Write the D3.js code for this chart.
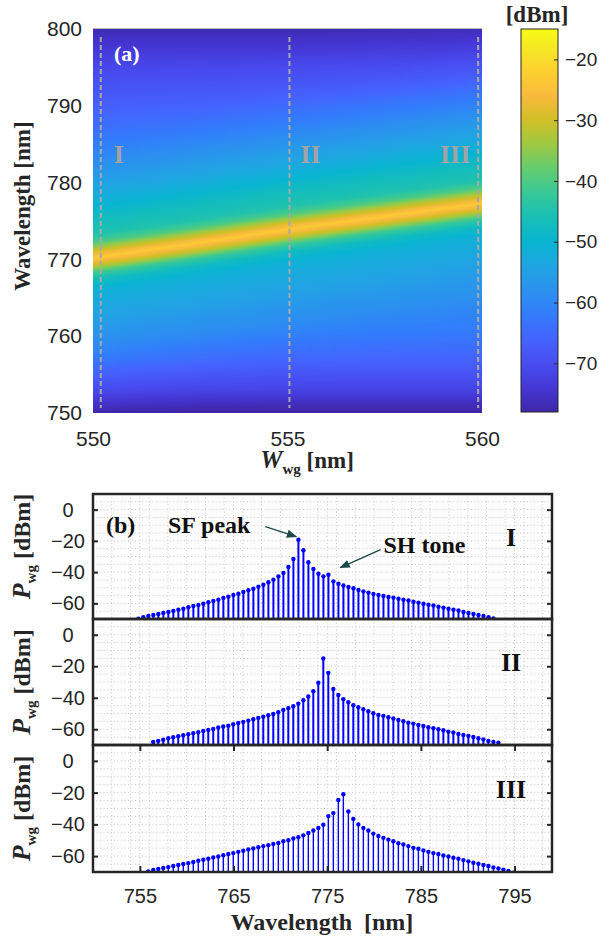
<!DOCTYPE html>
<html>
<head>
<meta charset="utf-8">
<script src="https://cdn.jsdelivr.net/npm/d3@7/dist/d3.min.js"></script>
<style>
body{margin:0;background:#fff;}
text{font-family:"Liberation Sans",Arial,sans-serif;fill:#262626;}
.serif{font-family:"Liberation Serif","Times New Roman",serif;font-weight:bold;}
</style>
</head>
<body>
<div id="plotdiv"></div>
<script>
// ---- (a) map data ----
// centre of the SF ridge (nm) at a few waveguide widths
var ridgeW = [550, 552.5, 555, 557.5, 560];
var ridgeLambda = [770.2, 772.0, 773.9, 775.6, 777.3];
// ridge power vs. distance from the ridge centre (nm -> dBm)
var ridgeOffset = [-22, -16, -12, -8, -4.4, -3, -2, -1, 0, 1, 2, 3, 5.3, 8, 11, 15, 20, 25];
var ridgeDbm = [-90, -72, -62, -56, -52, -48, -42, -31, -23, -31, -40, -45, -48, -53, -58, -66, -78, -90];
// flat floor vs. wavelength (nm -> dBm)
var floorLambda = [750, 753, 757, 761, 766, 772, 778, 784, 790, 795, 800];
var floorDbm = [-79, -72, -66, -62, -60, -60, -61, -63, -67, -71, -77];
var cutW = [550.2, 555.05, 559.9];
var cutNames = ["I", "II", "III"];
var mapTicksX = [550, 555, 560];
var mapTicksY = [750, 760, 770, 780, 790, 800];
var cbTicks = [-70, -60, -50, -40, -30, -20];

// ---- (b) comb spectra, one list per cut ----
var combStep = 0.534;
var combStart = [754.84, 756.43, 755.9];
var powerI = [-69.8, -68.9, -68.0, -67.4, -66.8, -66.1, -65.5, -64.8, -64.0, -63.4, -62.5, -61.7, -61.0, -60.2, -59.3, -58.5, -57.6,
  -56.5, -55.7, -54.6, -53.8, -52.7, -51.6, -50.6, -49.3, -48.0, -46.5, -44.8, -42.7, -40.5, -36.7, -31.6, -19.2,
  -26.0, -33.7, -38.0, -41.0, -42.7, -41.6, -45.9, -47.4, -48.6, -49.5, -50.3, -51.4, -52.3, -53.1, -54.0, -54.6, -55.3,
  -55.9, -56.3, -57.0, -57.6, -58.2, -58.9, -59.5, -60.2, -60.8, -61.4, -62.1, -62.7, -63.4, -64.0, -64.6, -65.5, -66.1,
  -66.8, -67.4, -68.0, -68.9, -69.6];
var powerII = [-68.1, -67.4, -66.6, -65.7, -65.1, -64.4, -63.8, -63.2, -62.5, -61.9, -61.1, -60.4, -59.8, -58.9, -58.3, -57.7,
  -56.8, -56.0, -55.3, -54.5, -53.6, -52.8, -52.0, -51.1, -50.3, -49.2, -47.7, -46.6, -45.4, -43.7, -41.6, -39.2, -35.8,
  -30.5, -15.1,
  -24.2, -34.4, -38.2, -40.9, -42.8, -44.7, -46.0, -47.3, -48.5, -49.8, -50.9, -51.5, -52.4, -53.2, -54.1, -54.9, -55.8,
  -56.4, -57.3, -57.9, -58.7, -59.4, -60.0, -60.6, -61.5, -62.1, -63.0, -63.6, -64.2, -64.9, -65.7, -66.4, -67.4, -68.1, -68.5];
var powerIII = [-69.6, -68.7, -68.1, -67.5, -66.9, -66.2, -65.6, -65.0, -64.4, -63.7, -62.9, -62.3, -61.7, -60.8, -60.2, -59.4,
  -58.7, -58.1, -57.3, -56.6, -55.8, -55.2, -54.4, -53.7, -53.1, -52.3, -51.7, -50.6, -50.0, -48.9, -48.1, -46.9, -45.4,
  -43.9, -42.3, -40.2, -34.8, -32.9, -24.6, -21.0,
  -31.9, -36.6, -40.0, -42.3, -43.9, -45.8, -47.3, -48.5, -49.6, -50.6, -51.9, -52.7, -53.7, -54.8, -55.4, -56.4, -57.3,
  -58.1, -58.7, -59.6, -60.2, -61.0, -61.7, -62.5, -63.3, -64.2, -64.8, -65.6, -66.2, -67.1, -67.7, -68.5, -69.4, -70.4];
var specTicksX = [755, 765, 775, 785, 795];
var specTicksY = [-60, -40, -20, 0];

// parula colormap (matlab), sampled
var parulaRGB = [[0.2422,0.1504,0.6603],[0.2706,0.2147,0.8364],[0.2813,0.3006,0.9414],[0.2699,0.3892,0.9906],
  [0.1963,0.4847,0.9892],[0.1687,0.5703,0.9359],[0.1248,0.6459,0.8883],[0.0297,0.7082,0.8163],[0.0964,0.7500,0.7120],
  [0.2161,0.7843,0.5923],[0.3909,0.8029,0.4354],[0.6174,0.7876,0.2612],[0.8203,0.7498,0.1535],[0.9728,0.7298,0.2394],
  [0.9892,0.8136,0.1885],[0.9597,0.9135,0.1423],[0.9769,0.9839,0.0805]];
var parulaPos = [0,4,8,12,16,20,24,28,32,36,40,44,48,52,56,60,63].map(function(i){return i/63;});

var svg = d3.select("#plotdiv").append("svg").attr("width", 599).attr("height", 939);

drawMap();
drawSpectra();

function drawMap()
{
	var cmin = -78, cmax = -15;
	var x = d3.scaleLinear().domain([550, 560]).range([93, 482]);
	var y = d3.scaleLinear().domain([750, 800]).range([413, 29]);
	var toT = d3.scaleLinear().domain([cmin, cmax]).range([0, 1]).clamp(true);
	var cmap = d3.scaleLinear().domain(parulaPos)
		.range(parulaRGB.map(function(c){return d3.rgb(c[0]*255, c[1]*255, c[2]*255);}))
		.interpolate(d3.interpolateRgb).clamp(true);
	var ridge = d3.scaleLinear().domain(ridgeW).range(ridgeLambda);
	var ridgeP = d3.scaleLinear().domain(ridgeOffset).range(ridgeDbm).clamp(true);
	var floorP = d3.scaleLinear().domain(floorLambda).range(floorDbm).clamp(true);

	var w = 389, h = 384;
	var canvas = document.createElement("canvas");
	canvas.width = w; canvas.height = h;
	var ctx = canvas.getContext("2d");
	var img = ctx.createImageData(w, h);
	for (var j = 0; j < h; j++) {
		var lam = y.invert(29 + j + 0.5);
		var fl = Math.pow(10, floorP(lam) / 10);
		for (var i = 0; i < w; i++) {
			var ww = x.invert(93 + i + 0.5);
			// ridge and floor added as power (mW)
			var v = 10 * Math.log10(fl + Math.pow(10, ridgeP(lam - ridge(ww)) / 10));
			var c = d3.rgb(cmap(toT(v)));
			var k = (j * w + i) * 4;
			img.data[k] = c.r; img.data[k+1] = c.g; img.data[k+2] = c.b; img.data[k+3] = 255;
		}
	}
	ctx.putImageData(img, 0, 0);
	svg.append("image")
		.attr("x", 93).attr("y", 29).attr("width", w).attr("height", h)
		.attr("preserveAspectRatio", "none")
		.attr("href", canvas.toDataURL());
	svg.append("line").attr("x1", 93).attr("x2", 482).attr("y1", 28.5).attr("y2", 28.5)
		.attr("stroke", "#b8b8b8").attr("stroke-width", 1);

	// dashed cuts
	svg.selectAll(".cut").data(cutW).enter().append("line")
		.attr("class", "cut")
		.attr("x1", function(d){return x(d);}).attr("x2", function(d){return x(d);})
		.attr("y1", 37).attr("y2", 408)
		.attr("stroke", "#a8a8a8").attr("stroke-width", 2).attr("stroke-dasharray", "5,3");
	svg.selectAll(".cutname").data(cutNames).enter().append("text")
		.attr("class", "serif")
		.attr("x", function(d, i){return x(cutW[i]) + [18, 21, -23][i];})
		.attr("y", 163)
		.attr("text-anchor", "middle")
		.style("font-size", "26px").style("fill", "#a3a3a3")
		.text(function(d){return d;});
	svg.append("text").attr("class", "serif").attr("x", 114).attr("y", 61)
		.style("font-size", "22px").style("fill", "#fff").text("(a)");

	var ax = svg.append("g").attr("transform", "translate(0,413)")
		.call(d3.axisBottom(x).tickValues(mapTicksX).tickSize(0).tickPadding(18).tickFormat(d3.format("d")));
	var ay = svg.append("g").attr("transform", "translate(93,0)")
		.call(d3.axisLeft(y).tickValues(mapTicksY).tickSize(0).tickPadding(11).tickFormat(d3.format("d")));
	[ax, ay].forEach(function(a){
		a.select(".domain").remove();
		a.selectAll("text").style("font-size", "21px").style("font-family", "Liberation Sans").style("fill", "#262626");
	});

	var lab = svg.append("text").attr("class", "serif").attr("x", 307).attr("y", 468)
		.attr("text-anchor", "middle").style("font-size", "23px");
	lab.append("tspan").style("font-style", "italic").style("font-size", "25px").text("W");
	lab.append("tspan").attr("dy", 6).style("font-size", "15px").text("wg");
	lab.append("tspan").attr("dy", -6).text(" [nm]");
	svg.append("text").attr("class", "serif")
		.attr("transform", "translate(30,206) rotate(-90)")
		.attr("text-anchor", "middle").style("font-size", "23px").text("Wavelength [nm]");

	// colourbar
	var cy = d3.scaleLinear().domain([cmin, cmax]).range([412, 29]);
	var grad = svg.append("defs").append("linearGradient").attr("id", "parula")
		.attr("x1", 0).attr("x2", 0).attr("y1", 1).attr("y2", 0);
	grad.selectAll("stop").data(parulaPos).enter().append("stop")
		.attr("offset", function(d){return d;})
		.attr("stop-color", function(d, i){var c = parulaRGB[i]; return d3.rgb(c[0]*255, c[1]*255, c[2]*255);});
	svg.append("rect").attr("x", 521).attr("y", 29).attr("width", 37).attr("height", 383)
		.attr("fill", "url(#parula)").attr("stroke", "#262626").attr("stroke-width", 1);
	var ac = svg.append("g").attr("transform", "translate(558,0)")
		.call(d3.axisRight(cy).tickValues(cbTicks).tickSize(-4).tickPadding(7));
	ac.select(".domain").remove();
	ac.selectAll("line").attr("stroke", "#262626");
	ac.selectAll("text").style("font-size", "19px").style("font-family", "Liberation Sans").style("fill", "#262626");
	svg.append("text").attr("class", "serif").attr("x", 537).attr("y", 22)
		.attr("text-anchor", "middle").style("font-size", "23px").text("[dBm]");
}

function drawSpectra()
{
	var x = d3.scaleLinear().domain([750, 799]).range([93, 552]);
	var panels = [
		{top: 494, bottom: 619, data: powerI, start: combStart[0], name: "I", sw: 2},
		{top: 619, bottom: 745, data: powerII, start: combStart[1], name: "II", sw: 2},
		{top: 745, bottom: 872, data: powerIII, start: combStart[2], name: "III", sw: 1.4}
	];
	var gridX = d3.range(752, 799, 2).concat(specTicksX);
	var gridY = d3.range(-65, 10, 5);

	panels.forEach(function(p, pi){
		var y = d3.scaleLinear().domain([-70, 10]).range([p.bottom, p.top]);
		var g = svg.append("g");
		g.append("clipPath").attr("id", "clip" + pi).append("rect")
			.attr("x", 93).attr("y", p.top).attr("width", 459).attr("height", p.bottom - p.top);

		g.selectAll(".gx").data(gridX).enter().append("line")
			.attr("x1", function(d){return x(d);}).attr("x2", function(d){return x(d);})
			.attr("y1", p.top).attr("y2", p.bottom)
			.attr("stroke", "#c4c4c4").attr("stroke-width", 1).attr("stroke-dasharray", "1,2.5");
		g.selectAll(".gy").data(gridY).enter().append("line")
			.attr("x1", 93).attr("x2", 552)
			.attr("y1", function(d){return y(d);}).attr("y2", function(d){return y(d);})
			.attr("stroke", "#c4c4c4").attr("stroke-width", 1).attr("stroke-dasharray", "1,2.5");

		var stems = g.append("g").attr("clip-path", "url(#clip" + pi + ")");
		var lam = function(d, i){return p.start + i * combStep;};
		stems.selectAll("line").data(p.data).enter().append("line")
			.attr("x1", function(d, i){return x(lam(d, i));})
			.attr("x2", function(d, i){return x(lam(d, i));})
			.attr("y1", p.bottom).attr("y2", function(d){return y(d);})
			.attr("stroke", "#0000ff").attr("stroke-width", p.sw);
		stems.selectAll("circle").data(p.data).enter().append("circle")
			.attr("cx", function(d, i){return x(lam(d, i));})
			.attr("cy", function(d){return y(d);})
			.attr("r", 2.2).attr("fill", "#0000ff");

		// ticks, inward on both sides
		var ayl = g.append("g").attr("transform", "translate(93,0)")
			.call(d3.axisLeft(y).tickValues(specTicksY).tickSize(-5).tickPadding(0));
		ayl.selectAll("text").attr("x", -25).attr("text-anchor", "middle")
			.style("font-size", "20px").style("font-family", "Liberation Sans").style("fill", "#262626");
		var ayr = g.append("g").attr("transform", "translate(552,0)")
			.call(d3.axisRight(y).tickValues(specTicksY).tickSize(-5).tickFormat(""));
		[ayl, ayr].forEach(function(a){
			a.select(".domain").remove();
			a.selectAll("line").attr("stroke", "#262626").attr("stroke-width", 2);
		});
		if (pi == 2) {
			var axb = g.append("g").attr("transform", "translate(0," + p.bottom + ")")
				.call(d3.axisBottom(x).tickValues(specTicksX).tickSize(-6).tickPadding(17));
			var axt = g.append("g").attr("transform", "translate(0," + p.top + ")")
				.call(d3.axisTop(x).tickValues(specTicksX).tickSize(-6).tickFormat(""));
			[axb, axt].forEach(function(a){
				a.select(".domain").remove();
				a.selectAll("line").attr("stroke", "#262626").attr("stroke-width", 2);
			});
			axb.selectAll("text").style("font-size", "20px").style("font-family", "Liberation Sans").style("fill", "#262626");
		}

		g.append("rect").attr("x", 93).attr("y", p.top).attr("width", 459).attr("height", p.bottom - p.top)
			.attr("fill", "none").attr("stroke", "#262626").attr("stroke-width", 2.5);

		g.append("text").attr("class", "serif").attr("x", 511).attr("y", y(-22) + 2)
			.attr("text-anchor", "middle").style("font-size", "26px").style("fill", "#111").text(p.name);

		var yl = g.append("text").attr("class", "serif")
			.attr("transform", "translate(30," + ((p.top + p.bottom) / 2 - (pi == 0 ? 10 : 0)) + ") rotate(-90)")
			.attr("text-anchor", "middle").style("font-size", "24px");
		yl.append("tspan").style("font-style", "italic").style("font-size", "26px").text("P");
		yl.append("tspan").attr("dy", 6).style("font-size", "15px").text("wg");
		yl.append("tspan").attr("dy", -6).text(" [dBm]");

		if (pi == 0) annotate(g, x, y);
	});

	svg.append("text").attr("class", "serif").attr("x", 322).attr("y", 930)
		.attr("text-anchor", "middle").attr("xml:space", "preserve")
		.style("font-size", "24px").text("Wavelength  [nm]");
}

function annotate(g, x, y)
{
	var col = "#1d4b49";
	g.append("defs").append("marker").attr("id", "head")
		.attr("viewBox", "0 0 10 10").attr("refX", 9).attr("refY", 5)
		.attr("markerWidth", 7).attr("markerHeight", 7).attr("orient", "auto")
		.append("path").attr("d", "M0,1 L10,5 L0,9 Z").attr("fill", col);
	g.append("text").attr("class", "serif").attr("x", 106).attr("y", y(-14.7))
		.style("font-size", "24px").style("fill", "#111").text("(b)");
	g.append("text").attr("class", "serif").attr("x", x(758.0)).attr("y", y(-14.7))
		.style("font-size", "24px").style("fill", "#111").text("SF peak");
	g.append("text").attr("class", "serif").attr("x", x(781.0)).attr("y", y(-27.5))
		.style("font-size", "24px").style("fill", "#111").text("SH tone");
	g.append("line").attr("x1", x(768.4)).attr("y1", y(-10.9)).attr("x2", x(771.7)).attr("y2", y(-17.3))
		.attr("stroke", col).attr("stroke-width", 1.5).attr("marker-end", "url(#head)");
	g.append("line").attr("x1", x(780.7)).attr("y1", y(-25.6)).attr("x2", x(776.4)).attr("y2", y(-37.1))
		.attr("stroke", col).attr("stroke-width", 1.5).attr("marker-end", "url(#head)");
}
</script>
</body>
</html>
